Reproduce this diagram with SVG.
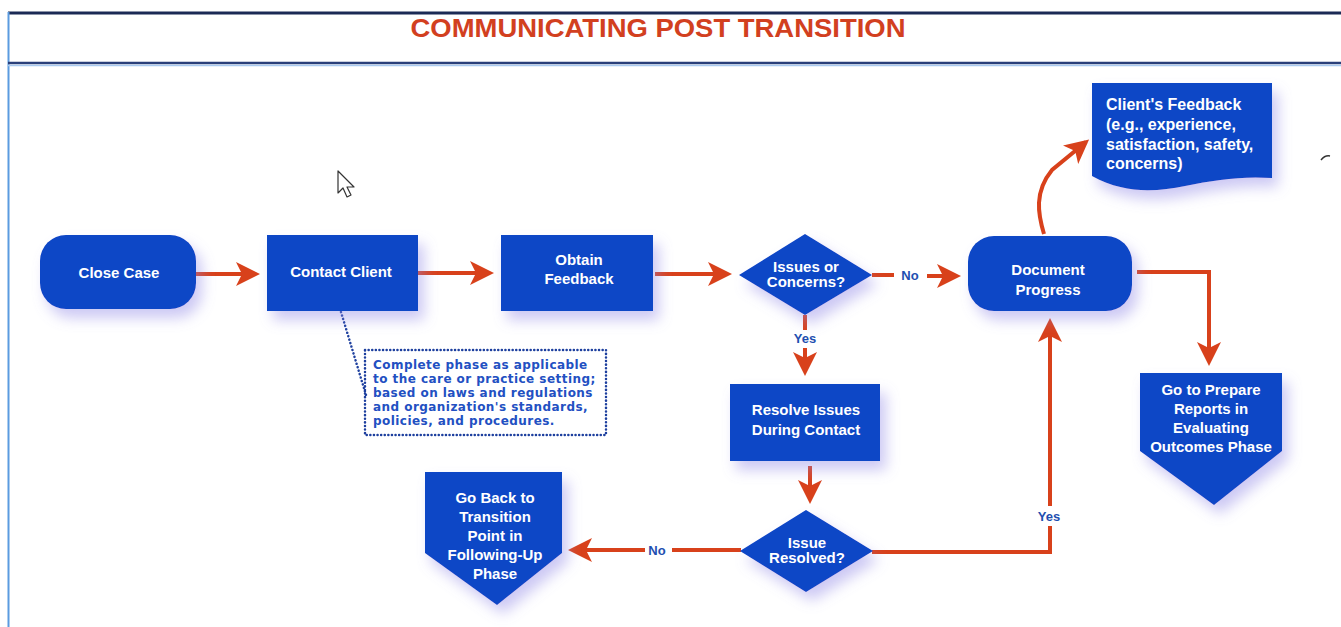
<svg xmlns="http://www.w3.org/2000/svg" width="1341" height="627" viewBox="0 0 1341 627">
  <style>
    .node { fill: #0b46c6; filter: url(#shadow); }
    .lbl { font-family: "Liberation Sans", Arial, sans-serif; font-weight: bold; font-size: 15px; fill: #ffffff; text-anchor: middle; }
    .lbl-left { font-family: "Liberation Sans", Arial, sans-serif; font-weight: bold; font-size: 16px; fill: #ffffff; }
    .edge { fill: none; stroke: #d8411b; stroke-width: 4; }
    .edge-arrow { fill: none; stroke: #d8411b; stroke-width: 4; marker-end: url(#head); }
    .elbl { font-family: "Liberation Sans", Arial, sans-serif; font-weight: bold; font-size: 13px; fill: #1e4fb0; text-anchor: middle; }
    .note { font-family: "DejaVu Sans", Verdana, sans-serif; font-weight: bold; font-size: 12px; letter-spacing: 0.45px; fill: #2250c2; }
    .dots { fill: none; stroke: #1d3f9e; stroke-width: 2.5; stroke-dasharray: 0.1 3.5; stroke-linecap: round; }
  </style>
  <defs>
    <filter id="shadow" x="-30%" y="-30%" width="170%" height="180%">
      <feGaussianBlur in="SourceAlpha" stdDeviation="7"/>
      <feOffset dx="6" dy="9" result="b"/>
      <feFlood flood-color="#8f86e6" flood-opacity="0.45"/>
      <feComposite in2="b" operator="in"/>
      <feMerge>
        <feMergeNode/>
        <feMergeNode in="SourceGraphic"/>
      </feMerge>
    </filter>
    <marker id="head" markerUnits="userSpaceOnUse" markerWidth="26" markerHeight="26" refX="20" refY="12" orient="auto">
      <path d="M0,0 L24,12 L0,24 L6,12 Z" fill="#d8411b"/>
    </marker>
  </defs>

  <!-- page frame and title bar -->
  <rect x="0" y="0" width="1341" height="627" fill="#ffffff"/>
  <line x1="8" y1="13" x2="1341" y2="13" stroke="#1b2a55" stroke-width="3"/>
  <line x1="8.5" y1="12" x2="8.5" y2="627" stroke="#5b9be0" stroke-width="2"/>
  <line x1="8" y1="63" x2="1341" y2="63" stroke="#2a3f7a" stroke-width="2.5"/>
  <line x1="8" y1="65.5" x2="1341" y2="65.5" stroke="#a9c9f0" stroke-width="1.5"/>
  <text x="658" y="37" font-family="'Liberation Sans', Arial, sans-serif" font-weight="bold" font-size="26" fill="#d2401f" text-anchor="middle" textLength="495" lengthAdjust="spacingAndGlyphs">COMMUNICATING POST TRANSITION</text>

  <!-- connectors -->
  <g id="connectors">
    <path id="e-close-contact" class="edge-arrow" d="M196,274 H256"/>
    <path id="e-contact-obtain" class="edge-arrow" d="M418,273 H490"/>
    <path id="e-obtain-issues" class="edge-arrow" d="M655,274 H728"/>
    <path class="edge" d="M872,275 H894"/>
    <text class="elbl" x="910" y="280">No</text>
    <path id="e-issues-document" class="edge-arrow" d="M927,276 H957"/>
    <path class="edge" d="M805,315 V330"/>
    <text class="elbl" x="805" y="343">Yes</text>
    <path id="e-issues-resolve" class="edge-arrow" d="M805,348 V372"/>
    <path id="e-resolve-resolved" class="edge-arrow" d="M810,466 V500"/>
    <path class="edge" d="M741,550 H672"/>
    <text class="elbl" x="657" y="555">No</text>
    <path id="e-resolved-goback" class="edge-arrow" d="M645,550 H572"/>
    <path class="edge" d="M872,552 H1050 V526"/>
    <text class="elbl" x="1049" y="521">Yes</text>
    <path id="e-resolved-document" class="edge-arrow" d="M1050,506 V322"/>
    <path id="e-document-feedback" class="edge-arrow" d="M1044,234 C1038,214 1034,192 1052,170 L1086,142"/>
    <path id="e-document-reports" class="edge-arrow" d="M1137,272 H1209 V362"/>
    <path id="e-contact-note" class="dots" d="M341,312 L366,395"/>
  </g>

  <!-- nodes -->
  <g id="close-case">
    <rect class="node" x="40" y="235" width="156" height="74" rx="26"/>
    <text class="lbl" x="119" y="278">Close Case</text>
  </g>
  <g id="contact-client">
    <rect class="node" x="267" y="235" width="151" height="76"/>
    <text class="lbl" x="341" y="277">Contact Client</text>
  </g>
  <g id="obtain-feedback">
    <rect class="node" x="501" y="235" width="152" height="76"/>
    <text class="lbl" x="579" y="265">Obtain</text>
    <text class="lbl" x="579" y="284">Feedback</text>
  </g>
  <g id="issues-concerns">
    <polygon class="node" points="805,234 872,275 805,315 739,275"/>
    <text class="lbl" x="806" y="272">Issues or</text>
    <text class="lbl" x="806" y="287">Concerns?</text>
  </g>
  <g id="document-progress">
    <rect class="node" x="968" y="236" width="164" height="75" rx="26"/>
    <text class="lbl" x="1048" y="275">Document</text>
    <text class="lbl" x="1048" y="295">Progress</text>
  </g>
  <g id="clients-feedback">
    <path class="node" d="M1092,83 H1272 V178 C1240,176 1215,180 1185,186 C1155,192 1125,194 1092,176 Z"/>
    <text class="lbl-left" x="1106" y="110">Client's Feedback</text>
    <text class="lbl-left" x="1106" y="130">(e.g., experience,</text>
    <text class="lbl-left" x="1106" y="150">satisfaction, safety,</text>
    <text class="lbl-left" x="1106" y="169">concerns)</text>
  </g>
  <g id="prepare-reports">
    <polygon class="node" points="1140,373 1282,373 1282,451 1214,505 1140,451"/>
    <text class="lbl" x="1211" y="395">Go to Prepare</text>
    <text class="lbl" x="1211" y="414">Reports in</text>
    <text class="lbl" x="1211" y="433">Evaluating</text>
    <text class="lbl" x="1211" y="452">Outcomes Phase</text>
  </g>
  <g id="resolve-issues">
    <rect class="node" x="730" y="384" width="150" height="77"/>
    <text class="lbl" x="806" y="415">Resolve Issues</text>
    <text class="lbl" x="806" y="435">During Contact</text>
  </g>
  <g id="issue-resolved">
    <polygon class="node" points="806,510 873,551 806,592 740,551"/>
    <text class="lbl" x="807" y="548">Issue</text>
    <text class="lbl" x="807" y="563">Resolved?</text>
  </g>
  <g id="go-back">
    <polygon class="node" points="425,472 562,472 562,553 497,605 425,553"/>
    <text class="lbl" x="495" y="503">Go Back to</text>
    <text class="lbl" x="495" y="522">Transition</text>
    <text class="lbl" x="495" y="541">Point in</text>
    <text class="lbl" x="495" y="560">Following-Up</text>
    <text class="lbl" x="495" y="579">Phase</text>
  </g>
  <g id="note">
    <rect class="dots" x="365" y="350" width="241" height="85" fill="#ffffff"/>
    <text class="note" x="373" y="369">Complete phase as applicable</text>
    <text class="note" x="373" y="383">to the care or practice setting;</text>
    <text class="note" x="373" y="397">based on laws and regulations</text>
    <text class="note" x="373" y="411">and organization's standards,</text>
    <text class="note" x="373" y="425">policies, and procedures.</text>
  </g>

  <!-- mouse pointer -->
  <path d="M338,171 L338,193 L343,188 L347,197 L351,195 L347,187 L354,187 Z" fill="#ffffff" stroke="#333333" stroke-width="1.2" stroke-linejoin="round"/>
  <path d="M1321,160 Q1325,155 1330,156" fill="none" stroke="#333333" stroke-width="1.5"/>
</svg>
